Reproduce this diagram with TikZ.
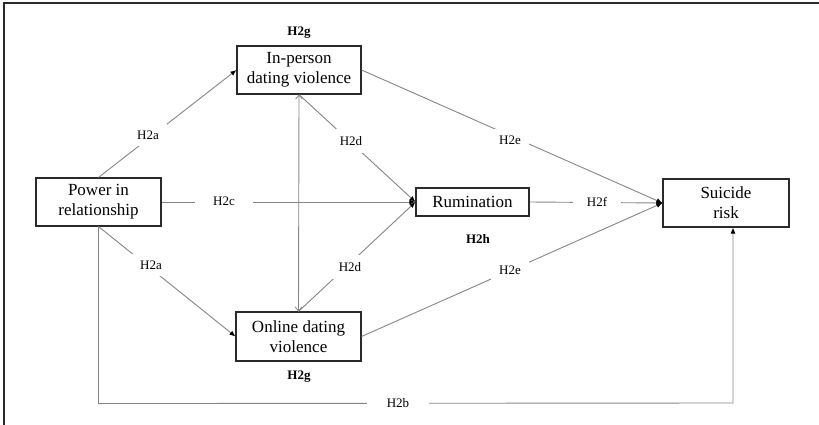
\documentclass[tikz,border=0pt]{standalone}
\usepackage{fontspec}
\setmainfont{Liberation Serif}
\usetikzlibrary{arrows.meta,calc}
\definecolor{lnc}{HTML}{858585}
\definecolor{bxc}{HTML}{2A2A2A}
\begin{document}
\begin{tikzpicture}[x=1pt,y=-1pt,
  box/.style={draw=bxc,line width=1.1pt,align=center,font=\fontsize{17}{20}\selectfont,inner sep=0pt},
  conn/.style={draw=lnc,line width=0.9pt},
  tip/.style={-{Latex[length=6pt,width=5pt,black]}},
  biv/.style={{Straight Barb[length=4pt,width=7pt,line width=0.8pt]}-{Straight Barb[length=4pt,width=7pt,line width=0.8pt]}},
  lab/.style={fill=white,font=\fontsize{13}{15}\selectfont,inner xsep=8pt,inner ysep=7pt},
  hlab/.style={font=\fontsize{13}{15}\selectfont\bfseries,inner sep=1pt}
]
\useasboundingbox (0,0) rectangle (819,425);
\draw[bxc,line width=1.4pt] (4,425) -- (4,3) -- (819,3);

\node[box,minimum width=125pt,minimum height=48pt] (power) at (98.5,202) {Power in\\relationship};
\node[box,minimum width=124pt,minimum height=48pt] (inperson) at (299,70) {In-person\\dating violence};
\node[box,minimum width=125pt,minimum height=49pt] (online) at (298.5,336.5) {Online dating\\violence};
\node[box,minimum width=113pt,minimum height=28pt] (rum) at (472.5,202) {Rumination};
\node[box,minimum width=126pt,minimum height=48pt] (suicide) at (726,203) {Suicide\\risk};

\node[hlab] (g1) at (299,33) {H2g};
\node[hlab] (g2) at (299,377) {H2g};
\node[hlab] (h) at (478,239) {H2h};

\draw[conn,tip] (power.north) -- (inperson.west);
\draw[conn,tip] (power.south) -- (online.west);
\draw[conn,tip] (power.east) -- (rum.west);
\draw[conn,biv] (inperson.south) -- (online.north);
\draw[conn,tip] (inperson.south) -- (rum.west);
\draw[conn,tip] (online.north) -- (rum.west);
\draw[conn,tip] (inperson.east) -- (suicide.west);
\draw[conn,tip] (online.east) -- (suicide.west);
\draw[conn,tip] (rum.east) -- (suicide.west);
\coordinate (b1) at ($(power.south)+(0,177)$);
\coordinate (b2) at (733,403);
\draw[conn,tip] (power.south) -- (b1) -- (b2) -- (b2 |- suicide.south);

\node[lab] (l1) at (148,135) {H2a};
\node[lab] (l2) at (151,265) {H2a};
\node[lab,inner xsep=18pt] (l3) at (224,201) {H2c};
\node[lab] (l4) at (351,141) {H2d};
\node[lab] (l5) at (350,267) {H2d};
\node[lab] (l6) at (510,140) {H2e};
\node[lab] (l7) at (510,270) {H2e};
\node[lab,inner xsep=14pt] (l8) at (597,202) {H2f};
\node[lab,inner xsep=20pt] (l9) at (398,403) {H2b};
\end{tikzpicture}
\end{document}
